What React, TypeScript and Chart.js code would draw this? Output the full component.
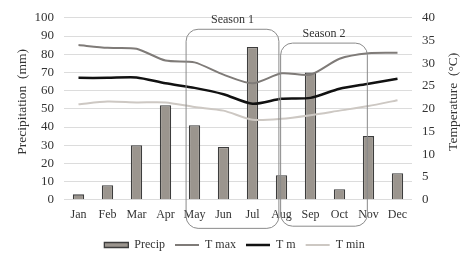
import React, { useEffect, useRef } from "react";
import { Chart, registerables } from "chart.js";

Chart.register(...registerables);

const months = ["Jan", "Feb", "Mar", "Apr", "May", "Jun", "Jul", "Aug", "Sep", "Oct", "Nov", "Dec"];
const precip = [3, 8, 30, 52, 41, 29, 84, 13.5, 70, 5.8, 35, 14.6];
const tMax = [34, 33.4, 33.2, 30.6, 30.2, 27.5, 25.6, 27.8, 27.5, 31, 32.2, 32.3];
const tMean = [26.8, 26.8, 26.9, 25.6, 24.6, 23.2, 21.1, 22.2, 22.4, 24.4, 25.5, 26.6];
const tMin = [21, 21.6, 21.4, 21.4, 20.4, 19.6, 17.6, 17.8, 18.6, 19.6, 20.6, 21.9];
const seasonLabels = ["Season 1", "Season 2"];
const seasonStart = [3.71, 6.97];
const seasonEnd = [6.91, 9.96];
const seasonTop = [93.7, 86.1];
const seasonBottom = [-15.7, -14.5];
const leftTitle = "Precipitation  (mm)";
const rightTitle = "Temperature  (°C)";

const FONT = "'Liberation Serif', 'Times New Roman', serif";

const seasonPlugin = {
  id: "seasons",
  afterDatasetsDraw(chart: any) {
    const { ctx, chartArea } = chart;
    const xs = chart.scales.x;
    const ys = chart.scales.y;
    const step = xs.getPixelForValue(1) - xs.getPixelForValue(0);
    ctx.save();
    ctx.strokeStyle = "#8a8a8a";
    ctx.lineWidth = 1;
    ctx.font = `12px ${FONT}`;
    ctx.fillStyle = "#333";
    ctx.textAlign = "center";
    ctx.textBaseline = "middle";
    for (let i = 0; i < seasonLabels.length; i++) {
      const x0 = xs.getPixelForValue(0) + seasonStart[i] * step;
      const x1 = xs.getPixelForValue(0) + seasonEnd[i] * step;
      const y0 = ys.getPixelForValue(seasonTop[i]);
      const y1 = ys.getPixelForValue(seasonBottom[i]);
      const r = 12;
      ctx.beginPath();
      ctx.moveTo(x0 + r, y0);
      ctx.lineTo(x1 - r, y0);
      ctx.arcTo(x1, y0, x1, y0 + r, r);
      ctx.lineTo(x1, y1 - r);
      ctx.arcTo(x1, y1, x1 - r, y1, r);
      ctx.lineTo(x0 + r, y1);
      ctx.arcTo(x0, y1, x0, y1 - r, r);
      ctx.lineTo(x0, y0 + r);
      ctx.arcTo(x0, y0, x0 + r, y0, r);
      ctx.closePath();
      ctx.stroke();
      ctx.fillText(seasonLabels[i], (x0 + x1) / 2, y0 - 9);
    }
    // axis titles (both read bottom-to-top)
    ctx.font = `13.5px ${FONT}`;
    const cy = (chartArea.top + chartArea.bottom) / 2 - 7;
    const titles: [string, number][] = [
      [leftTitle, 22],
      [rightTitle, chart.width - 16],
    ];
    for (const [t, x] of titles) {
      ctx.save();
      ctx.translate(x, cy);
      ctx.rotate(-Math.PI / 2);
      ctx.fillText(t, 0, 0);
      ctx.restore();
    }
    ctx.restore();
  },
};

export default function App() {
  const ref = useRef<HTMLCanvasElement | null>(null);
  useEffect(() => {
    document.body.style.margin = "0";
    const chart = new Chart(ref.current as HTMLCanvasElement, {
      type: "bar",
      data: {
        labels: months,
        datasets: [
          {
            type: "line",
            label: "T max",
            data: tMax,
            yAxisID: "y1",
            borderColor: "#7f7b78",
            backgroundColor: "#7f7b78",
            borderWidth: 2,
            pointRadius: 0,
            tension: 0.25,
            pointStyle: "line",
          },
          {
            type: "line",
            label: "T m",
            data: tMean,
            yAxisID: "y1",
            borderColor: "#111111",
            backgroundColor: "#111111",
            borderWidth: 2.5,
            pointRadius: 0,
            tension: 0.25,
            pointStyle: "line",
          },
          {
            type: "line",
            label: "T min",
            data: tMin,
            yAxisID: "y1",
            borderColor: "#cdc8c3",
            backgroundColor: "#cdc8c3",
            borderWidth: 2,
            pointRadius: 0,
            tension: 0.25,
            pointStyle: "line",
          },
          {
            type: "bar",
            label: "Precip",
            data: precip,
            yAxisID: "y",
            backgroundColor: "#9b958e",
            borderColor: "#3d3d3d",
            borderWidth: 1.3,
            barPercentage: 0.39,
            categoryPercentage: 1,
            pointStyle: "rect",
          },
        ],
      },
      options: {
        animation: false,
        responsive: false,
        maintainAspectRatio: false,
        layout: { padding: { top: 13, left: 0, right: 0, bottom: -4 } },
        plugins: {
          tooltip: { enabled: false },
          legend: {
            position: "bottom",
            title: { display: true, text: " ", padding: 2, font: { size: 1 } },
            labels: {
              usePointStyle: true,
              pointStyleWidth: 24,
              boxHeight: 5,
              boxWidth: 24,
              padding: 10,
              color: "#333",
              font: { family: FONT, size: 12 },
              sort: (a: any, b: any) => (a.datasetIndex === 3 ? -1 : b.datasetIndex === 3 ? 1 : a.datasetIndex - b.datasetIndex),
            },
          },
        },
        scales: {
          x: {
            grid: { display: false, drawTicks: false },
            border: { display: false },
            ticks: { color: "#333", font: { family: FONT, size: 12 }, maxRotation: 0, padding: 8 },
            afterFit: (s: any) => { s.height = 24; },
          },
          y: {
            position: "left",
            min: 0,
            max: 100,
            ticks: { stepSize: 10, autoSkip: false, color: "#333", font: { family: FONT, size: 13 }, padding: 10 },
            grid: { color: "#dcdcdc", lineWidth: 1, drawTicks: false },
            border: { display: false },
            afterFit: (s: any) => { s.width = 64; },
          },
          y1: {
            position: "right",
            min: 0,
            max: 40,
            ticks: { stepSize: 5, autoSkip: false, color: "#333", font: { family: FONT, size: 13 }, padding: 10 },
            grid: { display: false, drawTicks: false },
            border: { display: false },
            afterFit: (s: any) => { s.width = 57; },
          },
        },
      },
      plugins: [seasonPlugin],
    });
    return () => chart.destroy();
  }, []);
  return (
    <div style={{ width: 469, height: 257 }}>
      <canvas ref={ref} width={469} height={257} style={{ width: 469, height: 257, display: "block" }} />
    </div>
  );
}
